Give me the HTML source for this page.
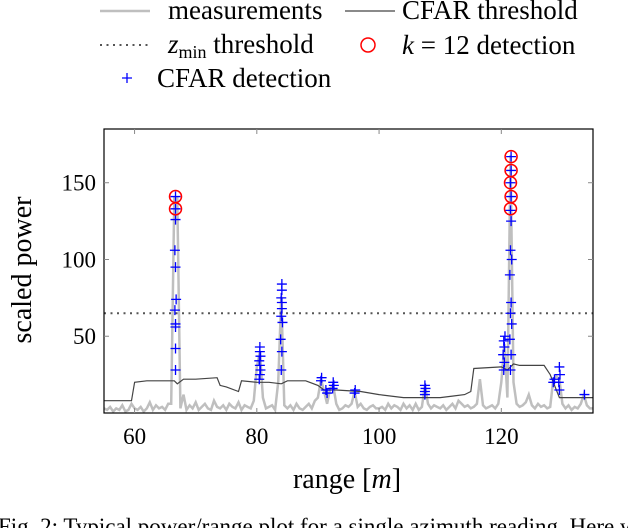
<!DOCTYPE html>
<html><head><meta charset="utf-8"><style>
body{margin:0;background:#fff;width:628px;height:528px;overflow:hidden;font-family:"Liberation Serif",serif}
svg{display:block}
text{font-family:"Liberation Serif",serif;fill:#000}
</style></head><body>
<svg id="c" width="628" height="528"></svg>
<script>
const xStart=55, xStep=0.5;
const measurements=[
3,2,4,1,3,2,5,1,2,6,
3,2,4,1,3,7,2,5,3,4,
2,6,6,140,140,3,12,2,5,3,
7,2,4,6,3,2,8,4,3,5,
2,6,4,3,7,2,5,4,3,8,
30,40,10,3,4,5,2,20,76,5,
3,5,2,6,3,2,4,6,3,8,
10,22,14,6,16,18,6,2,3,5,
4,6,14,4,6,3,2,4,5,3,
3,4,2,6,3,5,4,2,6,3,
5,2,6,2,4,18,6,3,5,4,
3,5,2,4,6,3,8,6,4,5,
3,4,6,22,5,3,4,5,3,6,
20,45,10,168,20,6,4,5,7,12,
5,3,6,4,5,3,4,22,24,22,
6,3,5,2,4,3,6,12,5,3,
3];
const cfarX=[55,59.5,60,62,66.5,67,68,70,73.5,74,75,77,77.5,80,82,84,85,88,90,91,93,97,100,104,110,112,114,115,115.5,120,121,122,123,127,128,129.5,135];
const cfarY=[8,8,20,21,21,19,22,22,23,18,17,14,21,20,20,19,21,21,18,15,15,14,12,10,10,11,12,14,29,30,28,32,31,31,25,10,10];
const zmin=65;
const detX=[66.7,66.7,66.7,66.6,66.8,66.7,66.6,66.7,66.7,66.7,66.7,80.4,80.5,80.6,80.5,80.4,80.6,80.5,80.5,84,84.1,83.9,84.2,84,84.1,84.1,84,84.1,84.1,90.5,90.6,91.5,91.3,92.4,92.6,92.5,96,96.1,107.5,107.5,107.6,107.5,120.4,120.5,120.3,120.5,120.4,120.6,121.5,121.6,121.4,121.7,121.5,121.6,121.4,121.7,121.5,121.6,121.5,121.6,121.5,121.6,121.6,128.5,128.7,129.5,129.4,129.6,129.5,133.6];
const detY=[28,42,56,67,74,95,106,126,133,141,58,22,25,28,31,34,37,40,43,28,40,48,59,63,68,72,75,80,84,21,23,13,15,16,18,20,13,15,12,14,16,18,28,33,38,43,47,50,28,38,48,58,65,72,90,100,106,125,132,141,150,158,167,20,22,15,20,25,30,12];
const kX=[66.7,66.7,121.5,121.6,121.5,121.6,121.6];
const kY=[133,141,133,141,150,158,167];
const xTicks=[60,80,100,120];
const yTicks=[50,100,150];

const L=104,R=593,T=129,B=413,xMin=55,xMax=135,yMin=0,yMax=185;
const sx=v=>L+(v-xMin)/(xMax-xMin)*(R-L);
const sy=v=>B-(v-yMin)/(yMax-yMin)*(B-T);
const svg=document.getElementById('c');const NS='http://www.w3.org/2000/svg';
function mk(tag,attrs,parent){const e=document.createElementNS(NS,tag);for(const k in attrs)e.setAttribute(k,attrs[k]);(parent||svg).appendChild(e);return e;}
const defs=mk('defs',{});const cp=mk('clipPath',{id:'cp'},defs);mk('rect',{x:L,y:T,width:R-L,height:B-T},cp);
const g=mk('g',{'clip-path':'url(#cp)'});
let d='';measurements.forEach((v,i)=>{d+=(i?'L':'M')+sx(xStart+i*xStep).toFixed(1)+','+sy(v).toFixed(1);});
let e=mk('path',{d:d,fill:'none',stroke:'#bfbfbf','stroke-width':2.5},g);


d='';cfarX.forEach((x,i)=>{d+=(i?'L':'M')+sx(x).toFixed(1)+','+sy(cfarY[i]).toFixed(1);});
e=mk('path',{d:d,fill:'none',stroke:'#444','stroke-width':1.2},g);


e=mk('line',{x1:L,x2:R,y1:sy(zmin),y2:sy(zmin),stroke:'#555','stroke-width':2,'stroke-dasharray':'2,4.5'},g);


detX.forEach((x,i)=>{const cx=sx(x),cy=sy(detY[i]);
 const p=mk('path',{d:`M${cx-5},${cy}H${cx+5}M${cx},${cy-5}V${cy+5}`,stroke:'#0000ff','stroke-width':1.3},g);
 
 });
kX.forEach((x,i)=>{const c=mk('circle',{cx:sx(x),cy:sy(kY[i]),r:6,fill:'none',stroke:'#ff0000','stroke-width':1.5},g);
 
 });
e=mk('rect',{x:L,y:T,width:R-L,height:B-T,fill:'none',stroke:'#000','stroke-width':1.2});


xTicks.forEach(v=>{const x=sx(v);mk('line',{x1:x,x2:x,y1:B,y2:B-5,stroke:'#888'});mk('line',{x1:x,x2:x,y1:T,y2:T+5,stroke:'#888'});
 const t=mk('text',{x:x,y:B+31,'font-size':23,'text-anchor':'middle'});t.textContent=v;
 
 });
yTicks.forEach(v=>{const y=sy(v);mk('line',{x1:L,x2:L+5,y1:y,y2:y,stroke:'#888'});mk('line',{x1:R,x2:R-5,y1:y,y2:y,stroke:'#888'});
 const t=mk('text',{x:L-8,y:y+8,'font-size':23,'text-anchor':'end'});t.textContent=v;
 
 });
</script>
<svg width="628" height="528" style="position:absolute;left:0;top:0">
<text x="31" y="270" font-size="28" text-anchor="middle" transform="rotate(-90 31 270)">scaled power</text>
<text x="347" y="488" font-size="28" text-anchor="middle">range [<tspan font-style="italic">m</tspan>]</text>
<g>
<line x1="100" x2="150" y1="11" y2="11" stroke="#bfbfbf" stroke-width="2.5"/>
<text x="168" y="19" font-size="27">measurements</text>
<line x1="345" x2="395" y1="11" y2="11" stroke="#444" stroke-width="1.2"/>
<text x="402" y="19" font-size="27">CFAR threshold</text>
<line x1="100" x2="150" y1="45" y2="45" stroke="#555" stroke-width="2" stroke-dasharray="2,4.5"/>
<text x="168" y="53" font-size="27"><tspan font-style="italic">z</tspan><tspan font-size="18" dy="5">min</tspan><tspan dy="-5"> threshold</tspan></text>
<circle cx="368" cy="45" r="7" fill="none" stroke="#ff0000" stroke-width="1.5"/>
<text x="402" y="54" font-size="27"><tspan font-style="italic">k</tspan> = 12 detection</text>
<path d="M122,78H132M127,73V83" stroke="#0000ff" stroke-width="1.3"/>
<text x="157" y="87" font-size="27">CFAR detection</text>
</g>
<text x="-2" y="534" font-size="23">Fig. 2: Typical power/range plot for a single azimuth reading. Here w</text>
</svg>
</body></html>
